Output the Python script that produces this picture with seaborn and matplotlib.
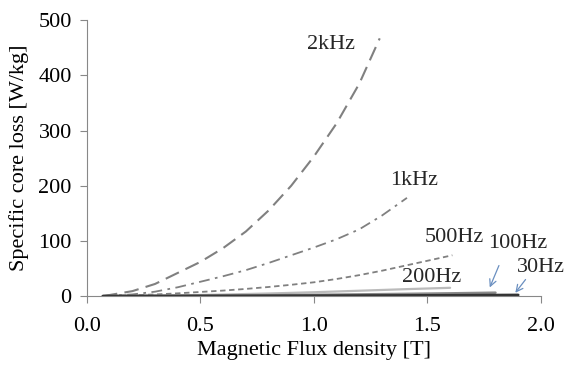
import matplotlib
matplotlib.use("Agg")
import matplotlib.pyplot as plt
import seaborn as sns
import pandas as pd

sns.set_theme(style="white")
plt.rcParams['font.family'] = ['Liberation Serif', 'DejaVu Serif']

B_2k = [0.07, 0.1, 0.2, 0.3, 0.4, 0.5, 0.6, 0.7, 0.8, 0.9, 1.0, 1.1, 1.2, 1.29]
P_2k = [0, 2, 9, 22, 42, 62, 87, 117, 155, 200, 253, 313, 385, 467]
B_1k = [0.07, 0.1, 0.2, 0.3, 0.4, 0.5, 0.6, 0.7, 0.8, 0.9, 1.0, 1.1, 1.2, 1.3, 1.41]
P_1k = [0, 1, 3, 8, 16, 26, 36, 47, 60, 74, 88, 103, 121, 146, 178]
B_500 = [0.07, 0.1, 0.2, 0.3, 0.4, 0.5, 0.6, 0.7, 0.8, 0.9, 1.0, 1.1, 1.2, 1.3, 1.4, 1.5, 1.61]
P_500 = [0, 0.5, 1.5, 3, 5, 7.5, 10, 13, 16.5, 20.5, 25, 31, 38, 46, 55, 64, 74]
B_200 = [0.07, 0.2, 0.4, 0.6, 0.8, 1.0, 1.2, 1.4, 1.6]
P_200 = [0, 0.4, 1.3, 2.8, 4.7, 7, 9.7, 12.5, 15]
B_100 = [0.07, 0.2, 0.4, 0.6, 0.8, 1.0, 1.2, 1.4, 1.6, 1.8]
P_100 = [0, 0.2, 0.5, 1.0, 1.6, 2.3, 3.1, 4.0, 5.0, 6.2]
B_30 = [0.07, 0.2, 0.4, 0.6, 0.8, 1.0, 1.2, 1.4, 1.6, 1.8, 1.9]
P_30 = [0, 0.05, 0.15, 0.3, 0.45, 0.65, 0.9, 1.15, 1.45, 1.8, 2.0]

series = [
    ("2kHz", B_2k, P_2k, "#808080", (0, (7, 3.5)), 1.5),
    ("1kHz", B_1k, P_1k, "#808080", (0, (6, 3, 1.5, 3)), 1.3),
    ("500Hz", B_500, P_500, "#808080", (0, (3, 2)), 1.3),
    ("200Hz", B_200, P_200, "#bbbbbb", "-", 1.6),
    ("100Hz", B_100, P_100, "#8a8a8a", "-", 1.8),
    ("30Hz", B_30, P_30, "#333333", "-", 2.0),
]

fig = plt.figure(figsize=(5.76, 3.66), dpi=100)
ax = fig.add_axes([0.151, 0.191, 0.788, 0.754])

for name, b, p, c, ls, lw in series:
    df = pd.DataFrame({"B": b, "P": p})
    sns.lineplot(data=df, x="B", y="P", ax=ax, color=c, linestyle=ls, linewidth=lw)

ax.set_xlim(0, 2.0)
ax.set_ylim(0, 500)
ax.set_xticks([0.0, 0.5, 1.0, 1.5, 2.0])
ax.set_xticklabels(["0.0", "0.5", "1.0", "1.5", "2.0"])
ax.set_yticks([0, 100, 200, 300, 400, 500])
ax.set_xlabel("Magnetic Flux density [T]", fontsize=16, color="black", labelpad=4)
ax.set_ylabel("Specific core loss [W/kg]", fontsize=16, color="black", labelpad=7)
ax.tick_params(axis="x", pad=10)
ax.tick_params(axis="y", pad=6)
ax.tick_params(axis="both", labelsize=16, colors="black", length=5, width=0.8,
               direction="out", bottom=True, left=True, color="#888888")
for s in ["top", "right"]:
    ax.spines[s].set_visible(False)
for s in ["left", "bottom"]:
    ax.spines[s].set_color("#888888")
    ax.spines[s].set_linewidth(0.8)

fs = 16
ax.text(1.075, 455, "2kHz", fontsize=fs, ha="center", va="center")
ax.text(1.44, 210, "1kHz", fontsize=fs, ha="center", va="center")
ax.text(1.62, 107, "500Hz", fontsize=fs, ha="center", va="center")
ax.text(1.90, 96, "100Hz", fontsize=fs, ha="center", va="center")
ax.text(1.52, 33, "200Hz", fontsize=fs, ha="center", va="center")
ax.text(2.0, 51, "30Hz", fontsize=fs, ha="center", va="center")

arrow_c = "#6a8fc0"
ax.annotate("", xy=(1.77, 11), xytext=(1.82, 60),
            arrowprops=dict(arrowstyle="->", color=arrow_c, lw=0.9))
ax.annotate("", xy=(1.88, 2), xytext=(1.94, 34),
            arrowprops=dict(arrowstyle="->", color=arrow_c, lw=0.9))

fig.savefig("out.png", dpi=100)
